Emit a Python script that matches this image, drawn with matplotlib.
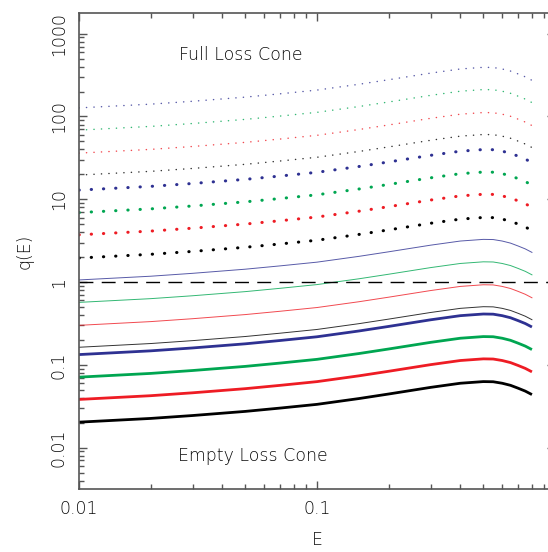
"""Loss-cone q(E) curves on log-log axes, dotted above q=1 and solid below."""

import matplotlib

matplotlib.use("Agg")

import matplotlib.pyplot as plt
import numpy as np
from matplotlib.ticker import FixedLocator, FixedFormatter, LogLocator, NullFormatter

# shared curve shape: log10 offset from the value at E=0.01
E_grid = [0.01, 0.02, 0.03, 0.05, 0.07, 0.1, 0.15, 0.2, 0.3, 0.4, 0.5, 0.55, 0.6, 0.65, 0.7, 0.75, 0.8]
shape_dex = [0.0, 0.045, 0.08, 0.13, 0.17, 0.215, 0.285, 0.34, 0.42, 0.47, 0.49, 0.488, 0.47, 0.445, 0.41, 0.375, 0.333]

# q(E=0.01) for each curve, bottom to top within each group (black, red, green, blue)
thick_solid = [0.0203, 0.0382, 0.071, 0.133]
thin_solid = [0.163, 0.300, 0.568, 1.06]
thick_dotted = [1.95, 3.72, 6.9, 12.9]
thin_dotted = [19.6, 36.1, 68.4, 127.0]

colors = ["#000000", "#ee1c24", "#00a651", "#2e3192"]

y_ticks = [0.01, 0.1, 1, 10, 100, 1000]
y_labels = ["0.01", "0.1", "1", "10", "100", "1000"]
x_ticks = [0.01, 0.1, 1]
x_labels = ["0.01", "0.1", ""]

TXT = "#0a0a0a"
AX = "#555555"

plt.rcParams["font.family"] = ["DejaVu Sans"]

fig = plt.figure(figsize=(5.48, 5.52), dpi=100, facecolor="white")
ax = fig.add_axes([79 / 548, 63 / 552, 476 / 548, 476 / 552])
ax.set_xscale("log")
ax.set_yscale("log")
ax.set_xlim(0.01, 1.0)
ax.set_ylim(10 ** -2.5, 10 ** 3.25)

E = np.array(E_grid)
prof = 10 ** np.array(shape_dex)

for lev, c in zip(thick_solid, colors):
    ax.plot(E, lev * prof, color=c, lw=2.0, solid_capstyle="butt")
for lev, c in zip(thin_solid, colors):
    ax.plot(E, lev * prof, color=c, lw=0.7, alpha=0.8)
for lev, c in zip(thick_dotted, colors):
    ax.plot(E, lev * prof, color=c, lw=2.2, linestyle=(0, (0.1, 3.9)), dash_capstyle="round")
for lev, c in zip(thin_dotted, colors):
    ax.plot(E, lev * prof, color=c, lw=1.1, linestyle=(0, (0.1, 4.8)), dash_capstyle="round", alpha=0.8)

ax.axhline(1.0, color="black", lw=1.0, linestyle=(0, (10, 6)))

ax.text(0.048, 560, "Full Loss Cone", fontsize=12.5, color=TXT, ha="center", va="center", fontweight="light")
ax.text(0.054, 0.0079, "Empty Loss Cone", fontsize=12.5, color=TXT, ha="center", va="center", fontweight="light")

ax.xaxis.set_major_locator(FixedLocator(x_ticks))
ax.xaxis.set_major_formatter(FixedFormatter(x_labels))
ax.xaxis.set_minor_locator(LogLocator(base=10, subs=np.arange(2, 10)))
ax.xaxis.set_minor_formatter(NullFormatter())
ax.yaxis.set_major_locator(FixedLocator(y_ticks))
ax.yaxis.set_major_formatter(FixedFormatter(y_labels))
ax.yaxis.set_minor_locator(LogLocator(base=10, subs=np.arange(2, 10), numticks=20))
ax.yaxis.set_minor_formatter(NullFormatter())

ax.tick_params(which="both", direction="in", top=True, right=True, color=AX, width=1.0)
ax.tick_params(which="major", length=6)
ax.tick_params(which="minor", length=3.5)
ax.tick_params(axis="x", which="major", pad=8, labelsize=12.5, labelcolor=TXT)
ax.tick_params(axis="y", which="major", pad=8, labelsize=12.5, labelcolor=TXT)
for lab in ax.get_yticklabels() + ax.get_xticklabels():
    lab.set_fontweight("light")
for lab in ax.get_yticklabels():
    lab.set_rotation(90)
    lab.set_va("center")

for s in ax.spines.values():
    s.set_color(AX)
    s.set_linewidth(1.2)

ax.set_xlabel("E", fontsize=12.5, color=TXT, labelpad=9, fontweight="light")
ax.set_ylabel("q(E)", fontsize=12.5, color=TXT, labelpad=12, fontweight="light")

fig.savefig("out.png", dpi=100, facecolor="white")
